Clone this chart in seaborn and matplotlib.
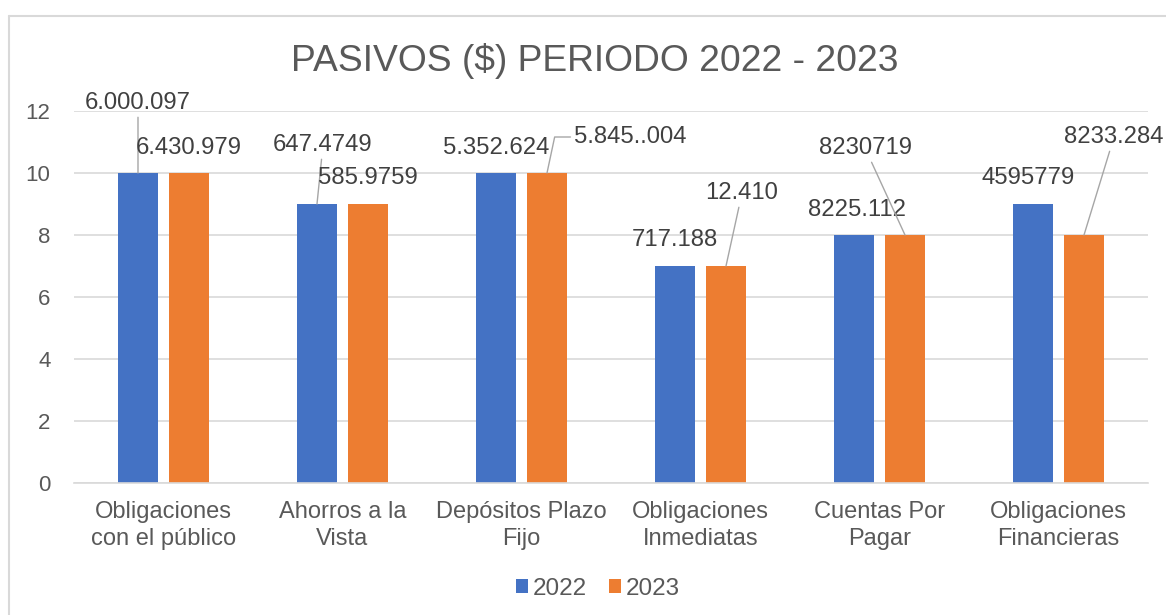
import matplotlib
matplotlib.use("Agg")
import matplotlib.pyplot as plt
import seaborn as sns
import pandas as pd
from matplotlib.lines import Line2D
from matplotlib.patches import Patch

categories = ["Obligaciones\ncon el público", "Ahorros a la\nVista", "Depósitos Plazo\nFijo",
              "Obligaciones\nInmediatas", "Cuentas Por\nPagar", "Obligaciones\nFinancieras"]
years = ["2022", "2023"]
values_2022 = [10, 9, 10, 7, 8, 9]
values_2023 = [10, 9, 10, 7, 8, 8]
labels_2022 = ["6.000.097", "647.4749", "5.352.624", "717.188", "8225.112", "4595779"]
labels_2023 = ["6.430.979", "585.9759", "5.845..004", "12.410", "8230719", "8233.284"]
title = "PASIVOS ($) PERIODO 2022 - 2023"

# label offsets (pixels, relative to bar top centre) and whether a leader line is drawn
offsets_2022 = [(0, 70, True), (6, 59, True), (0, 25, False), (0, 26, False), (3, 25, False), (-5, 26, False)]
offsets_2023 = [(0, 25, False), (0, 26, False), (83, 36, "elbow"), (16, 73, True), (-40, 87, True), (30, 98, True)]

colors = ["#4472C4", "#ED7D31"]
text_col = "#595959"
label_col = "#404040"
grid_col = "#D9D9D9"

df = pd.DataFrame({
    "cat": categories * 2,
    "year": [years[0]] * len(categories) + [years[1]] * len(categories),
    "value": values_2022 + values_2023,
})

sns.set_theme(style="white")
plt.rcParams["font.family"] = ["Liberation Sans", "DejaVu Sans"]

fig = plt.figure(figsize=(11.66, 6.15), dpi=100)
ax = fig.add_axes([74 / 1166, 1 - 483 / 615, (1148 - 74) / 1166, (483 - 111) / 615])

sns.barplot(data=df, x="cat", y="value", hue="year", palette=colors, width=0.57, gap=0.22,
            ax=ax, legend=False, saturation=1, linewidth=0)

ax.set_ylim(0, 12)
ax.set_yticks(range(0, 13, 2))
ax.set_xlim(-0.5, len(categories) - 0.5)
ax.set_xlabel("")
ax.set_ylabel("")
ax.yaxis.grid(True, color=grid_col, linewidth=1.2)
ax.set_axisbelow(True)
for s in ["top", "right", "left"]:
    ax.spines[s].set_visible(False)
ax.spines["bottom"].set_color(grid_col)
ax.spines["bottom"].set_linewidth(1.2)
ax.tick_params(axis="y", length=0, pad=17, labelsize=16, labelcolor=text_col)
ax.tick_params(axis="x", length=0, pad=13, labelsize=17, labelcolor=text_col)
for t in ax.get_xticklabels():
    t.set_linespacing(1.3)

n = len(categories)
bars = ax.patches
series = [(values_2022, labels_2022, offsets_2022), (values_2023, labels_2023, offsets_2023)]
for si, (vals, labs, offs) in enumerate(series):
    for i in range(n):
        b = bars[si * n + i]
        xc = b.get_x() + b.get_width() / 2
        yt = b.get_height()
        dx, dy, line = offs[i]
        if line:
            if line == "elbow":
                ap = dict(arrowstyle="-", color="#A6A6A6", lw=1,
                          connectionstyle="angle,angleA=0,angleB=78,rad=0",
                          shrinkA=0, shrinkB=0, relpos=(0, 0.5))
            else:
                ap = dict(arrowstyle="-", color="#A6A6A6", lw=1, shrinkA=0, shrinkB=0)
        else:
            ap = None
        ax.annotate(labs[i], xy=(xc, yt), xytext=(dx, dy), textcoords="offset pixels",
                    ha="center", va="center", fontsize=17.2, color=label_col,
                    arrowprops=ap, annotation_clip=False)

fig.text(595 / 1166, 1 - 61 / 615, title, ha="center", va="center", fontsize=26.8, color=text_col)

handles = [Patch(facecolor=c, edgecolor="none") for c in colors]
fig.legend(handles, years, loc="center", bbox_to_anchor=(598 / 1166, 1 - 589 / 615), ncol=2,
           frameon=False, fontsize=17.5, labelcolor=text_col, handlelength=0.5, handleheight=0.5,
           handletextpad=0.2, columnspacing=0.9)

# chart border
fig.add_artist(Line2D([8.5 / 1166, 8.5 / 1166], [0, 1 - 15.5 / 615], transform=fig.transFigure,
                      color=grid_col, lw=1.5))
fig.add_artist(Line2D([8.5 / 1166, 1], [1 - 15.5 / 615, 1 - 15.5 / 615], transform=fig.transFigure,
                      color=grid_col, lw=1.5))

fig.savefig("out.png", dpi=100, facecolor="white")
